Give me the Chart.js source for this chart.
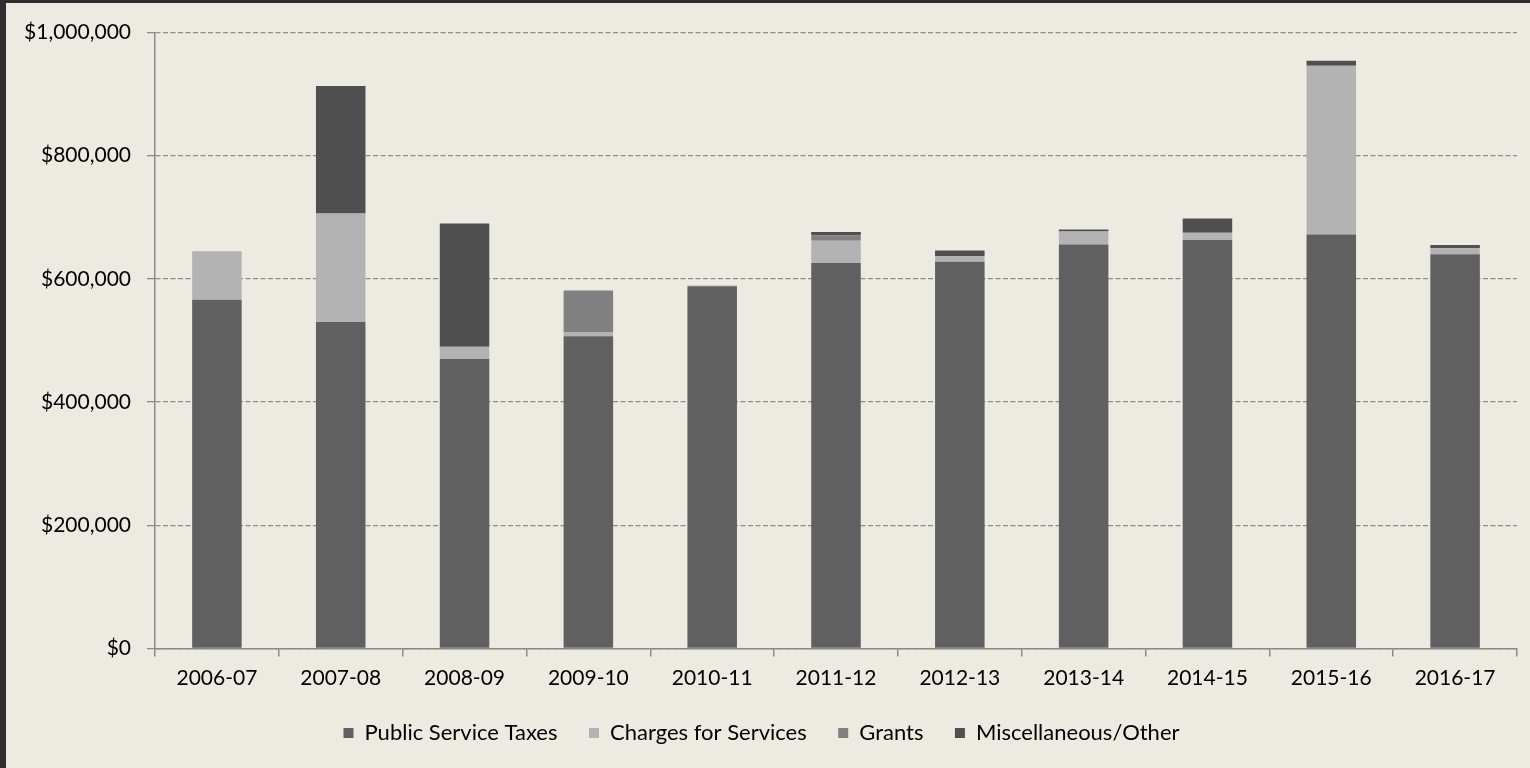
<!DOCTYPE html>
<html>
<head>
<meta charset="utf-8">
<script src="https://cdn.jsdelivr.net/npm/chart.js@4/dist/chart.umd.min.js"></script>
<style>
    html, body { margin: 0; padding: 0; background: #2f2f2f; width: 1530px; height: 768px; overflow: hidden; }
    .quadro { position: absolute; left: 6px; top: 3px; width: 1524px; height: 765px; background: #edebe1; }
</style>
</head>
<body>
<div class="quadro">
    <canvas id="graficoReceitas" width="1524" height="765"></canvas>
</div>
<script>
// anos fiscais
var anos = ['2006-07', '2007-08', '2008-09', '2009-10', '2010-11', '2011-12', '2012-13', '2013-14', '2014-15', '2015-16', '2016-17'];

// valores (aprox.)
var publicServiceTaxes = [566000, 530000, 470000, 507000, 587000, 626000, 628000, 656000, 663000, 672000, 640000];
var chargesForServices = [79000, 176000, 20000, 6000, 0, 36000, 9000, 21000, 12000, 274000, 10000];
var grants = [0, 0, 0, 68000, 2000, 9000, 0, 0, 0, 0, 0];
var miscOther = [0, 207000, 200000, 0, 0, 5000, 9000, 3000, 23000, 8000, 5000];

var yTicks = [0, 200000, 400000, 600000, 800000, 1000000];

function FormatarDolar(v) {
    return '$' + Number(v).toLocaleString('en-US');
}

var fonte = { family: 'Lato', size: 21 };

var ctx = document.getElementById('graficoReceitas').getContext('2d');

var grafico = new Chart(ctx, {
    type: 'bar',
    data: {
        labels: anos,
        datasets: [
            { label: 'Public Service Taxes', data: publicServiceTaxes, backgroundColor: '#606060' },
            { label: 'Charges for Services', data: chargesForServices, backgroundColor: '#b3b3b3' },
            { label: 'Grants', data: grants, backgroundColor: '#808080' },
            { label: 'Miscellaneous/Other', data: miscOther, backgroundColor: '#4f4f4f' }
        ]
    },
    options: {
        responsive: false,
        animation: false,
        categoryPercentage: 1,
        barPercentage: 0.4,
        layout: { padding: { top: 29.5, right: 13, left: 0, bottom: 14 } },
        plugins: {
            tooltip: { enabled: false },
            legend: {
                position: 'bottom',
                labels: {
                    boxWidth: 10,
                    boxHeight: 10,
                    padding: 31.5,
                    color: '#000',
                    font: { family: 'Lato', size: 22 }
                }
            }
        },
        scales: {
            x: {
                stacked: true,
                afterFit: function (scale) { scale.height = 42; },
                grid: {
                    offset: true,
                    drawOnChartArea: false,
                    tickLength: 8,
                    color: '#8a8a8a',
                    lineWidth: 1.5
                },
                border: { display: true, color: '#8a8a8a', width: 1.5 },
                ticks: { color: '#000', font: fonte, padding: 9, maxRotation: 0 }
            },
            y: {
                stacked: true,
                min: 0,
                max: 1000000,
                afterFit: function (scale) { scale.width = 149; },
                afterBuildTicks: function (scale) {
                    scale.ticks = yTicks.map(function (v) { return { value: v }; });
                },
                grid: {
                    color: '#8c8c8c',
                    lineWidth: 1.3,
                    tickLength: 8,
                    tickColor: '#8a8a8a',
                    tickBorderDash: []
                },
                border: { display: true, color: '#8a8a8a', width: 1.5, dash: [5, 2.5] },
                ticks: {
                    color: '#000',
                    font: fonte,
                    padding: 16,
                    callback: function (v) { return FormatarDolar(v); }
                }
            }
        }
    }
});
</script>
</body>
</html>
